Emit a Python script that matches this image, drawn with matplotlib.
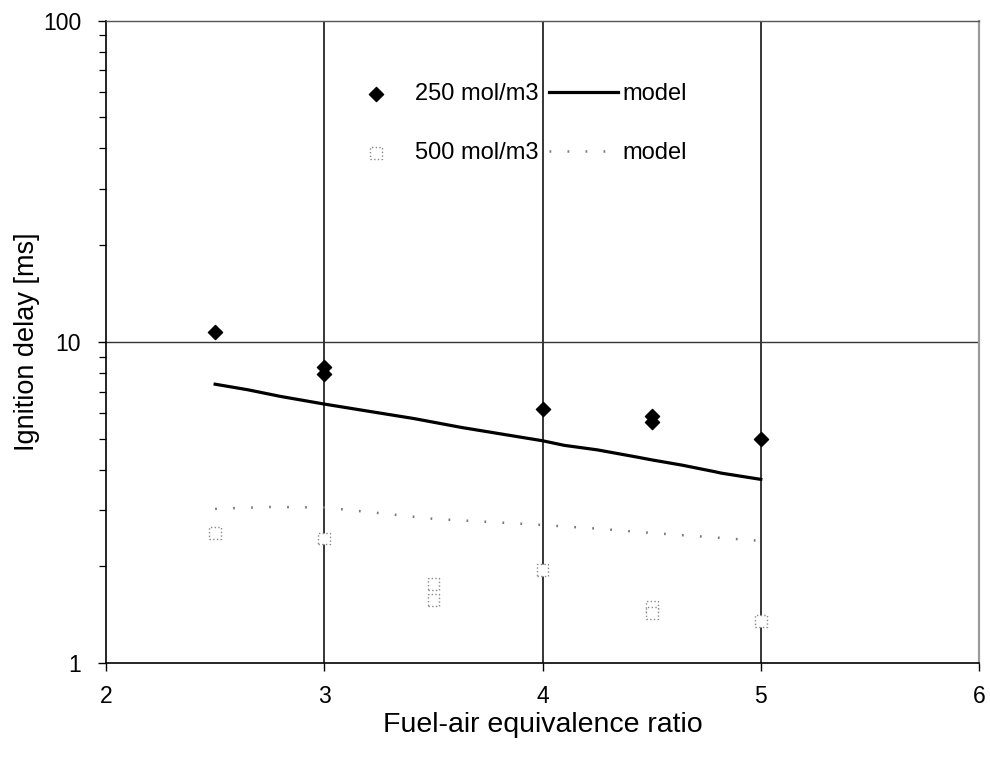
import matplotlib
matplotlib.use('Agg')
import matplotlib.pyplot as plt
from matplotlib.ticker import LogLocator, NullFormatter, FixedLocator
import numpy as np

plt.rcParams['font.family'] = ['Liberation Sans', 'DejaVu Sans']

# measured ignition delays [ms]
phi_250 = [2.5, 3.0, 3.0, 4.0, 4.5, 4.5, 5.0]
tau_250 = [10.7, 8.32, 7.93, 6.17, 5.88, 5.63, 4.97]
phi_500 = [2.5, 3.0, 3.5, 3.5, 4.0, 4.5, 4.5, 5.0]
tau_500 = [2.54, 2.44, 1.76, 1.57, 1.95, 1.50, 1.43, 1.35]

# model curves
phi_model_250 = [2.5, 2.65, 2.8, 3.0, 3.17, 3.41, 3.63, 3.86, 4.0, 4.1, 4.25,
                 4.43, 4.5, 4.64, 4.79, 4.82, 5.0]
tau_model_250 = [7.38, 7.09, 6.76, 6.40, 6.13, 5.77, 5.41, 5.10, 4.92, 4.76, 4.61,
                 4.38, 4.29, 4.13, 3.94, 3.90, 3.73]
phi_model_500 = [2.5, 2.75, 3.0, 3.25, 3.5, 3.75, 4.0, 4.25, 4.5, 4.75, 5.0]
tau_model_500 = [3.02, 3.06, 3.05, 2.93, 2.81, 2.75, 2.69, 2.62, 2.54, 2.47, 2.40]

x_ticks = [2, 3, 4, 5, 6]
y_ticks = [1, 10, 100]

fig = plt.figure(figsize=(9.9, 7.57), dpi=100)
ax = fig.add_axes([0.1071, 0.1242, 0.8818, 0.8485])

# grid lines only inside the frame
for v in x_ticks[1:-1]:
    ax.axvline(v, color='black', lw=1.1, zorder=1)
for v in y_ticks[1:-1]:
    ax.axhline(v, color='#333333', lw=1.0, zorder=1)

h1 = ax.scatter(phi_250, tau_250, marker='D', s=52, color='black', zorder=4)
h2 = ax.scatter(phi_500, tau_500, marker='s', s=72, facecolors='white',
                edgecolors='#8a8a8a', linewidths=1.0, linestyles=':', zorder=4)
l1, = ax.plot(phi_model_250, tau_model_250, color='black', lw=2.3, zorder=3)
l2, = ax.plot(phi_model_500, tau_model_500, color='#7a7a7a', lw=1.8,
              linestyle=(0, (0.7, 6.5)), zorder=3)

ax.set_yscale('log')
ax.set_xlim(2, 6)
ax.set_ylim(1, 100)
ax.xaxis.set_major_locator(FixedLocator(x_ticks))
ax.yaxis.set_major_locator(FixedLocator(y_ticks))
ax.yaxis.set_minor_locator(LogLocator(base=10, subs=np.arange(2, 10)))
ax.yaxis.set_minor_formatter(NullFormatter())
ax.set_yticklabels([str(v) for v in y_ticks])
ax.set_xticklabels([str(v) for v in x_ticks])

ax.tick_params(axis='both', which='major', direction='out', length=6, width=1.0,
               labelsize=16.5, colors='black')
ax.tick_params(axis='y', which='major', pad=12)
ax.tick_params(axis='x', which='major', pad=10)
ax.tick_params(axis='y', which='minor', direction='out', length=5, width=0.9)

for side in ['left', 'bottom']:
    ax.spines[side].set_color('black')
    ax.spines[side].set_linewidth(1.2)
ax.spines['top'].set_color('#555555')
ax.spines['top'].set_linewidth(1.0)
ax.spines['right'].set_color('#9a9a9a')
ax.spines['right'].set_linewidth(1.6)

ax.set_xlabel('Fuel-air equivalence ratio', fontsize=20.5, labelpad=3)
ax.set_ylabel('Ignition delay [ms]', fontsize=19.5, labelpad=2)

ax.legend([h1, h2, l1, l2], ['250 mol/m3', '500 mol/m3', 'model', 'model'],
          ncol=2, frameon=False, fontsize=17, loc='upper left',
          bbox_to_anchor=(0.270, 0.903), borderpad=0, borderaxespad=0,
          handlelength=2.9, handletextpad=0.2, columnspacing=0.45,
          labelspacing=1.58)

fig.savefig('out.png', dpi=100)
